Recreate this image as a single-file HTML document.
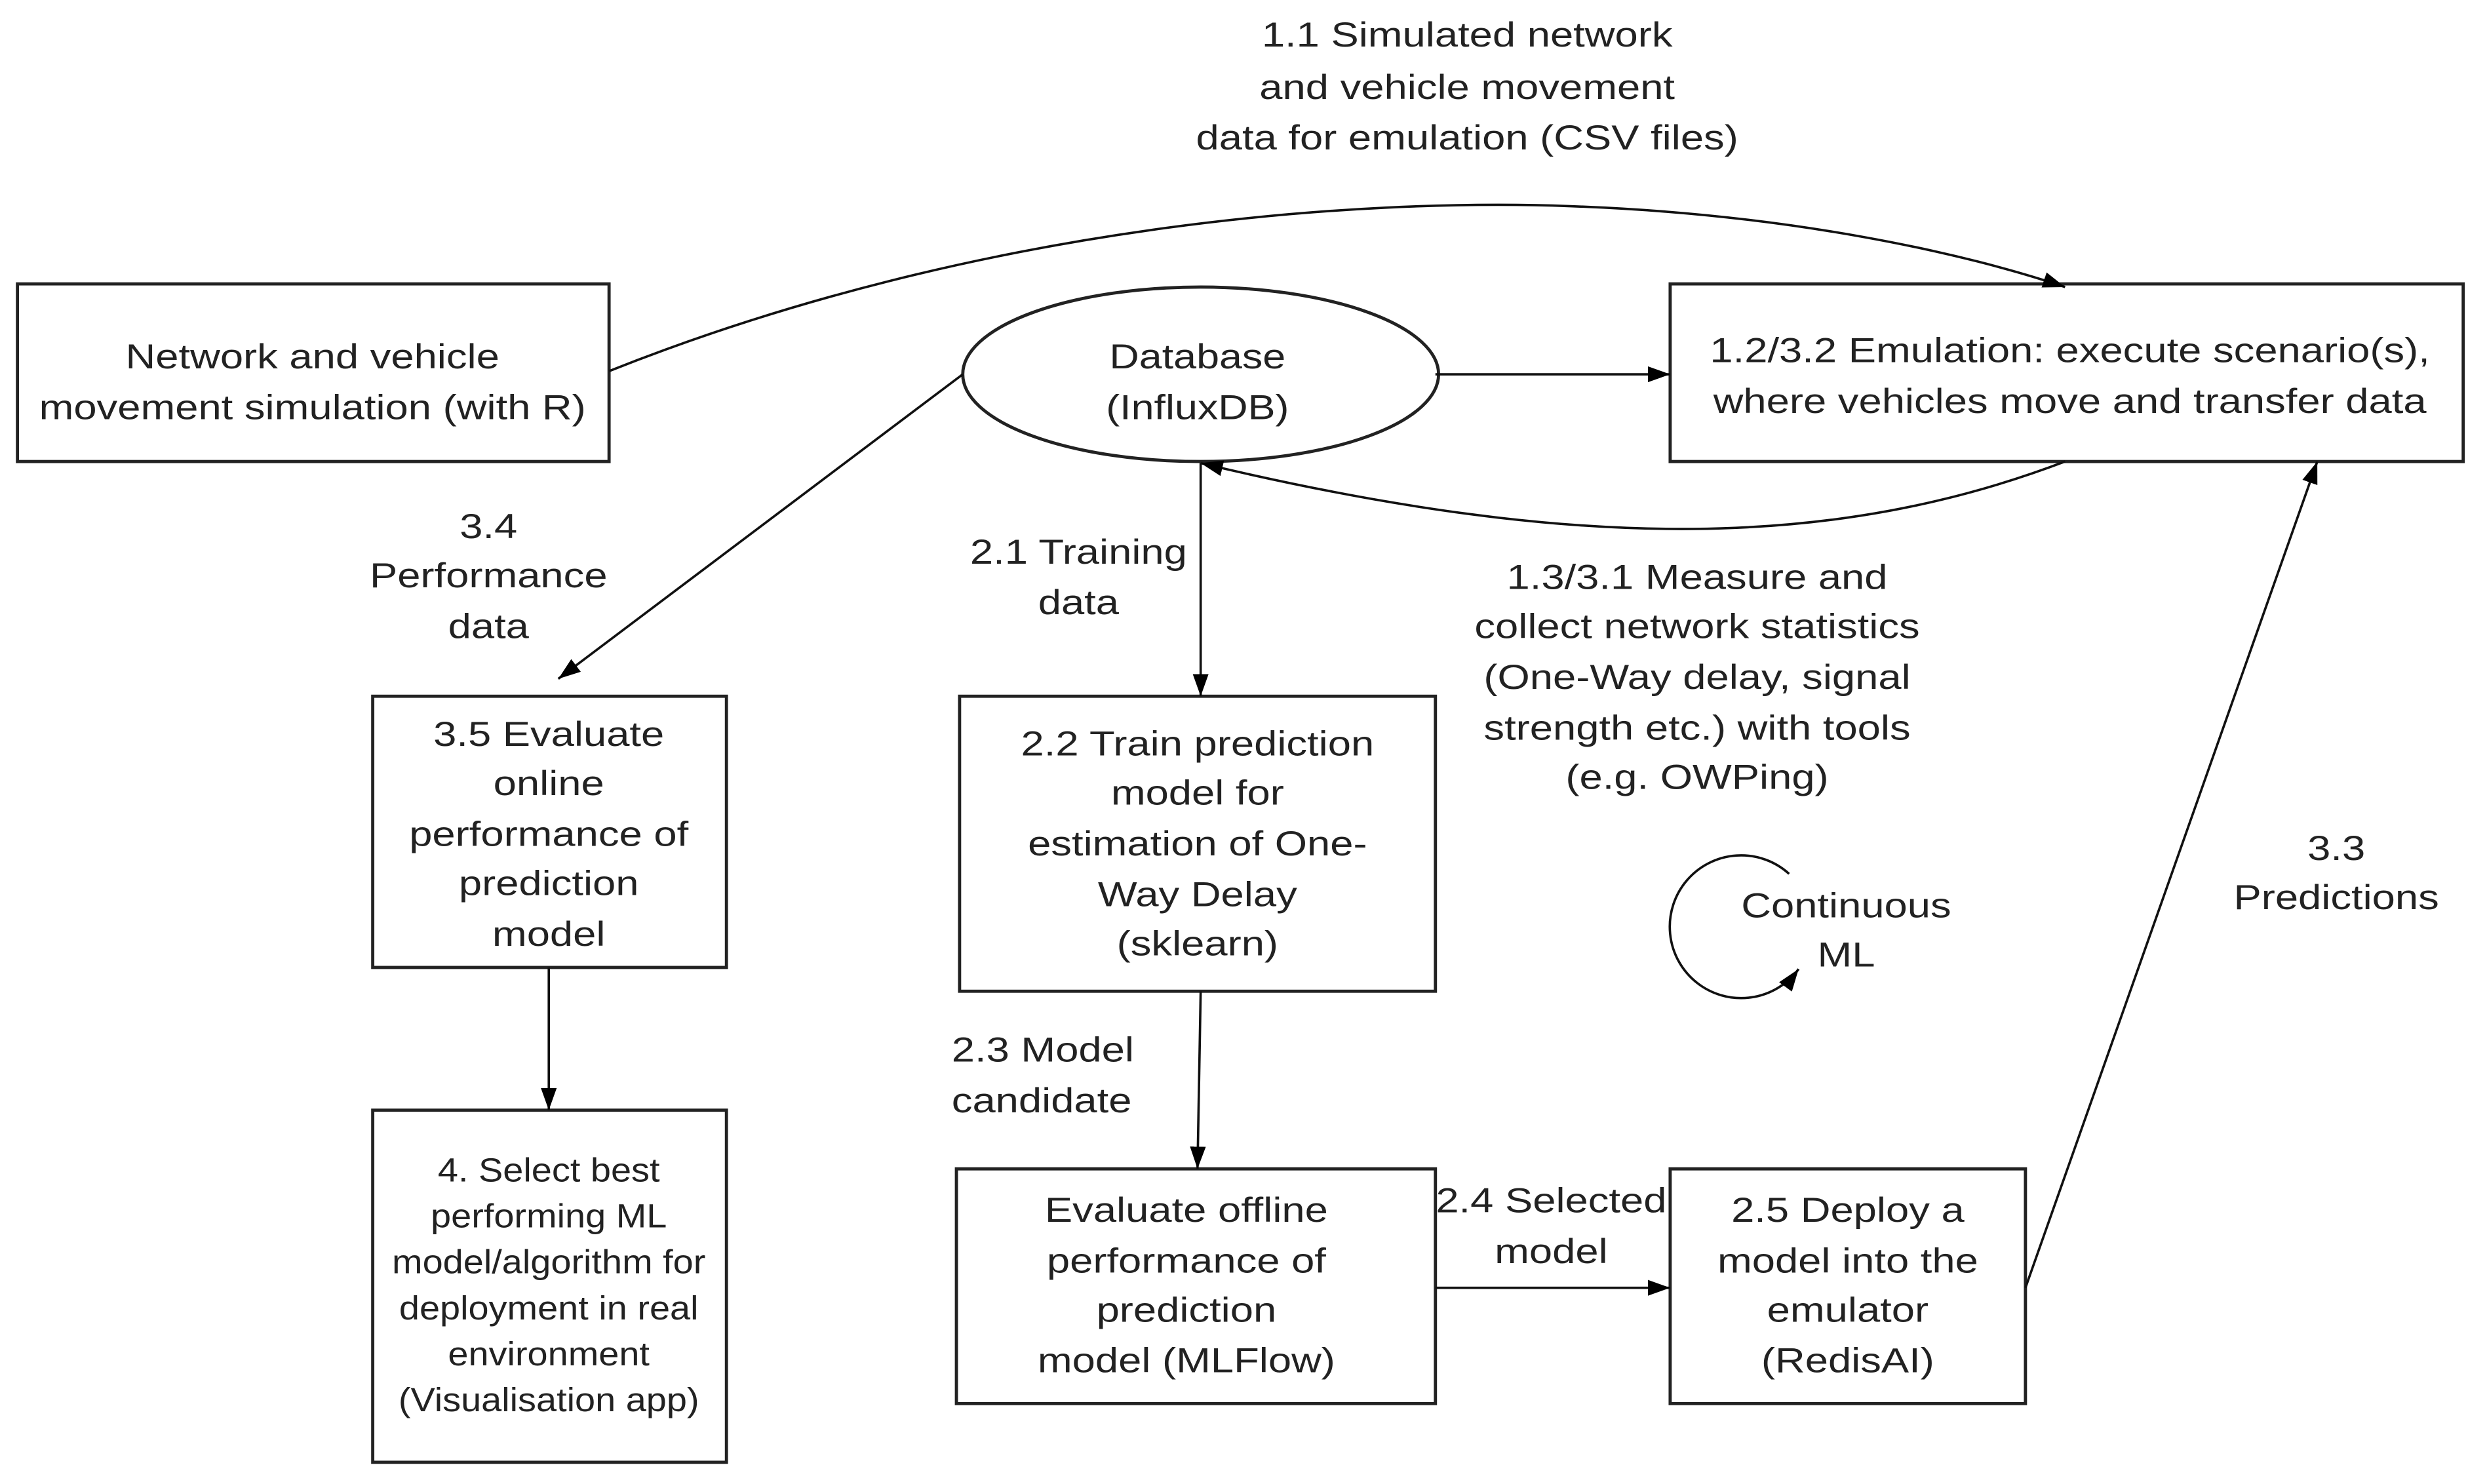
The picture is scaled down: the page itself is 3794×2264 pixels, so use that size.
<!DOCTYPE html>
<html><head><meta charset="utf-8"><style>html,body{margin:0;padding:0;background:#fff}svg{display:block}</style></head>
<body>
<svg width="3794" height="2264" viewBox="0 0 1568 935.7" preserveAspectRatio="none" xmlns="http://www.w3.org/2000/svg" font-family="Liberation Sans, Arial, sans-serif" font-size="22" fill="#222">
<defs>
<marker id="b" viewBox="0 0 14 10" refX="14" refY="5" markerWidth="14" markerHeight="10" markerUnits="userSpaceOnUse" orient="auto"><path d="M0,0 L14,5 L0,10 z" fill="#000"/></marker>
</defs>
<g fill="none" stroke="#222" stroke-width="2">
<rect x="11" y="179" width="373" height="112"/>
<ellipse cx="757" cy="236" rx="150" ry="55"/>
<rect x="1053" y="179" width="500" height="112"/>
<rect x="235" y="439" width="223" height="171"/>
<rect x="605" y="439" width="300" height="186"/>
<rect x="235" y="700" width="223" height="222"/>
<rect x="603" y="737" width="302" height="148"/>
<rect x="1053" y="737" width="224" height="148"/>
</g>
<g fill="none" stroke="#111" stroke-width="1.5" marker-end="url(#b)">
<path d="M384,234 C620,140 860,125 990,130 C1130,135 1240,160 1302,181"/>
<path d="M905,236 L1053,236"/>
<path d="M1302,291 C1160,345 1000,350 757,292"/>
<path d="M757,292 L757,439"/>
<path d="M607,236 L352,428"/>
<path d="M346,610 L346,700"/>
<path d="M757,625 L755,737"/>
<path d="M905,812 L1053,812"/>
<path d="M1277,812 L1461,291"/>
<path d="M1128,551 A45,45 0 1 0 1134,611"/>
</g>
<g text-anchor="middle" dominant-baseline="central">
<text transform="translate(925,22) scale(1.19,1)">1.1 Simulated network</text>
<text transform="translate(925,55) scale(1.19,1)">and vehicle movement</text>
<text transform="translate(925,87) scale(1.19,1)">data for emulation (CSV files)</text>
<text transform="translate(197,225) scale(1.19,1)">Network and vehicle</text>
<text transform="translate(197,257) scale(1.19,1)">movement simulation (with R)</text>
<text transform="translate(755,225) scale(1.18,1)">Database</text>
<text transform="translate(755,257) scale(1.18,1)">(InfluxDB)</text>
<text transform="translate(1305,221) scale(1.19,1)">1.2/3.2 Emulation: execute scenario(s),</text>
<text transform="translate(1305,253) scale(1.19,1)">where vehicles move and transfer data</text>
<text transform="translate(308,332) scale(1.19,1)">3.4</text>
<text transform="translate(308,363) scale(1.19,1)">Performance</text>
<text transform="translate(308,395) scale(1.19,1)">data</text>
<text transform="translate(680,348) scale(1.19,1)">2.1 Training</text>
<text transform="translate(680,380) scale(1.19,1)">data</text>
<text transform="translate(1070,364) scale(1.19,1)">1.3/3.1 Measure and</text>
<text transform="translate(1070,395) scale(1.19,1)">collect network statistics</text>
<text transform="translate(1070,427) scale(1.19,1)">(One-Way delay, signal</text>
<text transform="translate(1070,459) scale(1.19,1)">strength etc.) with tools</text>
<text transform="translate(1070,490) scale(1.19,1)">(e.g. OWPing)</text>
<text transform="translate(346,463) scale(1.19,1)">3.5 Evaluate</text>
<text transform="translate(346,494) scale(1.19,1)">online</text>
<text transform="translate(346,526) scale(1.19,1)">performance of</text>
<text transform="translate(346,557) scale(1.19,1)">prediction</text>
<text transform="translate(346,589) scale(1.19,1)">model</text>
<text transform="translate(755,469) scale(1.19,1)">2.2 Train prediction</text>
<text transform="translate(755,500) scale(1.19,1)">model for</text>
<text transform="translate(755,532) scale(1.19,1)">estimation of One-</text>
<text transform="translate(755,564) scale(1.19,1)">Way Delay</text>
<text transform="translate(755,595) scale(1.19,1)">(sklearn)</text>
<text transform="translate(1164,571) scale(1.19,1)">Continuous</text>
<text transform="translate(1164,602) scale(1.19,1)">ML</text>
<text transform="translate(1473,535) scale(1.19,1)">3.3</text>
<text transform="translate(1473,566) scale(1.19,1)">Predictions</text>
<text transform="translate(978,757) scale(1.19,1)">2.4 Selected</text>
<text transform="translate(978,789) scale(1.19,1)">model</text>
<text transform="translate(748,763) scale(1.19,1)">Evaluate offline</text>
<text transform="translate(748,795) scale(1.19,1)">performance of</text>
<text transform="translate(748,826) scale(1.19,1)">prediction</text>
<text transform="translate(748,858) scale(1.19,1)">model (MLFlow)</text>
<text transform="translate(1165,763) scale(1.19,1)">2.5 Deploy a</text>
<text transform="translate(1165,795) scale(1.19,1)">model into the</text>
<text transform="translate(1165,826) scale(1.19,1)">emulator</text>
<text transform="translate(1165,858) scale(1.19,1)">(RedisAI)</text>
</g>
<g text-anchor="middle" dominant-baseline="central" font-size="21">
<text transform="translate(346,738) scale(1.1,1)">4. Select best</text>
<text transform="translate(346,767) scale(1.1,1)">performing ML</text>
<text transform="translate(346,796) scale(1.1,1)">model/algorithm for</text>
<text transform="translate(346,825) scale(1.1,1)">deployment in real</text>
<text transform="translate(346,854) scale(1.1,1)">environment</text>
<text transform="translate(346,883) scale(1.1,1)">(Visualisation app)</text>
</g>
<g dominant-baseline="central">
<text transform="translate(600,662) scale(1.19,1)">2.3 Model</text>
<text transform="translate(600,694) scale(1.19,1)">candidate</text>
</g>
</svg>
</body></html>
